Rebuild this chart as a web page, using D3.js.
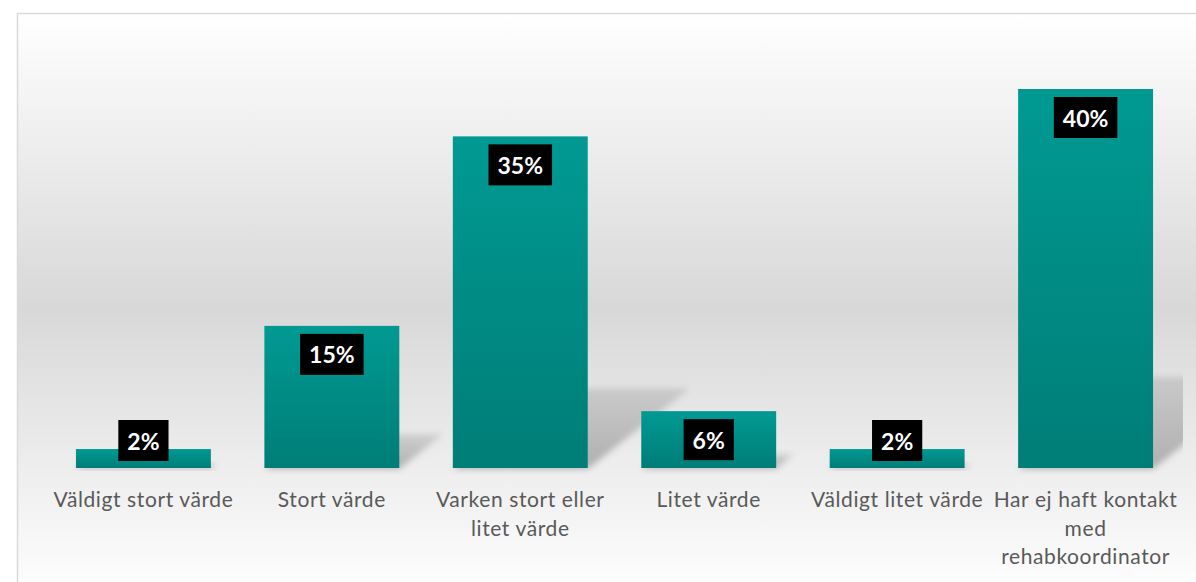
<!DOCTYPE html>
<html>
<head>
<meta charset="utf-8">
<script src="https://cdn.jsdelivr.net/npm/d3@7"></script>
<style>
  html, body { margin: 0; padding: 0; background: #ffffff; }
  svg { display: block; }
</style>
</head>
<body>
<svg id="chart" width="1196" height="582"></svg>
<script>
// ---- data ----
const categories = [
  "Väldigt stort värde",
  "Stort värde",
  "Varken stort eller\nlitet värde",
  "Litet värde",
  "Väldigt litet värde",
  "Har ej haft kontakt\nmed\nrehabkoordinator"
];
const values = [2, 15, 35, 6, 2, 40];
const valueLabels = ["2%", "15%", "35%", "6%", "2%", "40%"];

// ---- layout ----
const W = 1196, H = 582;
const baseline = 468;
const svg = d3.select("#chart");
const defs = svg.append("defs");

// background gradient
const bg = defs.append("linearGradient").attr("id", "bgGrad")
  .attr("gradientUnits", "userSpaceOnUse")
  .attr("x1", 0).attr("y1", 13).attr("x2", 0).attr("y2", 600);
bg.append("stop").attr("offset", "0%").attr("stop-color", "#ffffff");
bg.append("stop").attr("offset", "50%").attr("stop-color", "#d8d8d8");
bg.append("stop").attr("offset", "100%").attr("stop-color", "#ffffff");

// bar gradient
const bgBar = defs.append("linearGradient").attr("id", "barGrad")
  .attr("x1", 0).attr("y1", 0).attr("x2", 0).attr("y2", 1);
bgBar.append("stop").attr("offset", "0%").attr("stop-color", "#009a93");
bgBar.append("stop").attr("offset", "100%").attr("stop-color", "#007d77");

// shadow gradient
const sg = defs.append("linearGradient").attr("id", "shGrad")
  .attr("x1", 0).attr("y1", 1).attr("x2", 0).attr("y2", 0);
sg.append("stop").attr("offset", "0%").attr("stop-color", "#000").attr("stop-opacity", 0.26);
sg.append("stop").attr("offset", "100%").attr("stop-color", "#000").attr("stop-opacity", 0.11);

const blur = defs.append("filter").attr("id", "blur")
  .attr("x", "-20%").attr("y", "-30%").attr("width", "140%").attr("height", "160%");
blur.append("feGaussianBlur").attr("stdDeviation", 3);

defs.append("clipPath").attr("id", "plotClip")
  .append("rect").attr("x", 17).attr("y", 13).attr("width", 1166).attr("height", 462);

// chart area
svg.append("rect")
  .attr("x", 17.5).attr("y", 13.5).attr("width", 1200).attr("height", 600)
  .attr("fill", "url(#bgGrad)")
  .attr("stroke", "#d9d9d9").attr("stroke-width", 1.5);

// scales
const x = d3.scaleBand()
  .domain(categories)
  .range([49.2, 1179.8])
  .paddingInner(0.284)
  .paddingOuter(0.142);

const y = d3.scaleLinear().domain([0, 40]).range([baseline, 89]);

const data = categories.map((c, i) => ({ c, v: values[i], lab: valueLabels[i] }));

// shadows
const shadowK = 0.24, skew = 1.28;
svg.append("g").attr("clip-path", "url(#plotClip)")
  .selectAll("path").data(data).join("path")
  .attr("d", d => {
    const x0 = x(d.c), x1 = x0 + x.bandwidth();
    const hs = shadowK * (baseline - y(d.v));
    const sh = skew * hs;
    return `M${x0},${baseline + 1}L${x1},${baseline + 1}L${x1 + sh},${baseline - hs}L${x0 + sh},${baseline - hs}Z`;
  })
  .attr("fill", "url(#shGrad)")
  .attr("filter", "url(#blur)");

// bars
svg.append("g").selectAll("rect").data(data).join("rect")
  .attr("x", d => x(d.c))
  .attr("y", d => y(d.v))
  .attr("width", x.bandwidth())
  .attr("height", d => baseline - y(d.v))
  .attr("fill", "url(#barGrad)");

// data labels
const lg = svg.append("g");
data.forEach(d => {
  const cx = x(d.c) + x.bandwidth() / 2;
  const boxTop = Math.min(y(d.v) + 8, baseline - 48);
  const g = lg.append("g");
  const rect = g.append("rect").attr("fill", "#000");
  const t = g.append("text")
    .attr("x", cx).attr("y", boxTop + 29.5)
    .attr("text-anchor", "middle")
    .attr("font-family", "Lato, 'Noto Sans', sans-serif")
    .attr("font-weight", "bold")
    .attr("font-size", 23)
    .attr("fill", "#ffffff")
    .text(d.lab);
  const w = t.node().getComputedTextLength();
  rect.attr("x", cx - w / 2 - 9).attr("y", boxTop)
    .attr("width", w + 18).attr("height", 41);
});

// category labels (axis)
const axis = svg.append("g")
  .attr("transform", `translate(0,${baseline})`)
  .call(d3.axisBottom(x).tickSize(0).tickFormat(""));
axis.select(".domain").remove();

const cl = svg.append("g");
data.forEach(d => {
  const cx = x(d.c) + x.bandwidth() / 2;
  const lines = d.c.split("\n");
  const t = cl.append("text")
    .attr("text-anchor", "middle")
    .attr("font-family", "Lato, 'Noto Sans', sans-serif")
    .attr("font-size", 21)
    .attr("letter-spacing", 0.6)
    .attr("fill", "#595959");
  lines.forEach((ln, i) => {
    t.append("tspan").attr("x", cx).attr("y", 507 + i * 28.5).text(ln);
  });
});
</script>
</body>
</html>
